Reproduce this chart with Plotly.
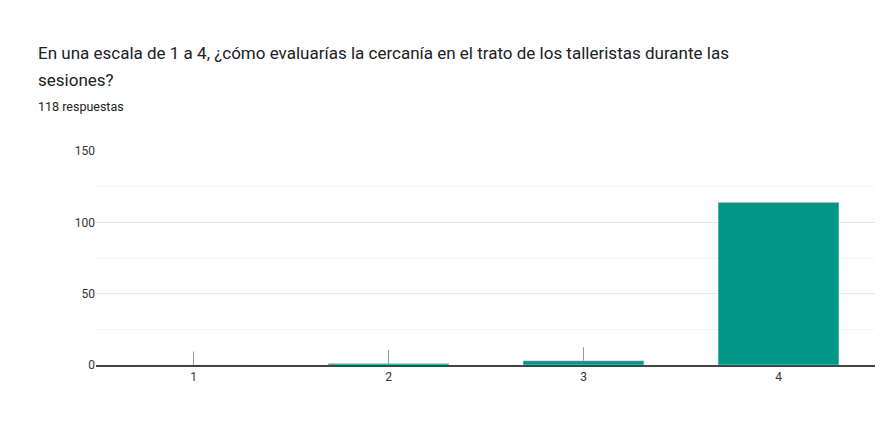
import plotly.graph_objects as go

categories = ["1", "2", "3", "4"]
values = [0, 1, 3, 114]
title_line1 = "En una escala de 1 a 4, ¿cómo evaluarías la cercanía en el trato de los talleristas durante las"
title_line2 = "sesiones?"
subtitle = "118 respuestas"

fig = go.Figure(go.Bar(x=categories, y=values, marker_color="#009688", width=0.62, hoverinfo="x+y"))

for i, v in enumerate(values):
    if v < 50:
        fig.add_annotation(x=i, y=v, text="", showarrow=True, arrowhead=0, arrowwidth=1,
                           arrowcolor="#999999", ax=0, ay=-15, axref="pixel", ayref="pixel")

fig.update_layout(
    width=883, height=448,
    paper_bgcolor="white", plot_bgcolor="white",
    margin=dict(l=88, r=15, t=143, b=91),
    font=dict(family="Roboto, Arial, sans-serif", color="#222"),
    showlegend=False,
    bargap=0.38,
)
for txt, ys, sz in [(title_line1, 98, 17), (title_line2, 71, 17), (subtitle, 45, 12.5)]:
    fig.add_annotation(text=txt, xref="paper", yref="paper", x=0, y=1.0, xanchor="left",
                       yanchor="middle", showarrow=False, xshift=-60, yshift=ys,
                       font=dict(size=sz, color="#202124"))
fig.update_xaxes(showline=True, linecolor="#444", linewidth=1.5, tickfont=dict(size=12, color="#333"),
                 ticks="", automargin=False)
fig.update_yaxes(range=[0, 150], tickvals=[0, 50, 100, 150], gridcolor="#e6e6e6", zeroline=False,
                 tickfont=dict(size=12, color="#333"), ticksuffix="      ", automargin=False,
                 minor=dict(tickvals=[25, 75, 125], showgrid=True, gridcolor="#f4f4f4"))

fig.write_html("out.html")
